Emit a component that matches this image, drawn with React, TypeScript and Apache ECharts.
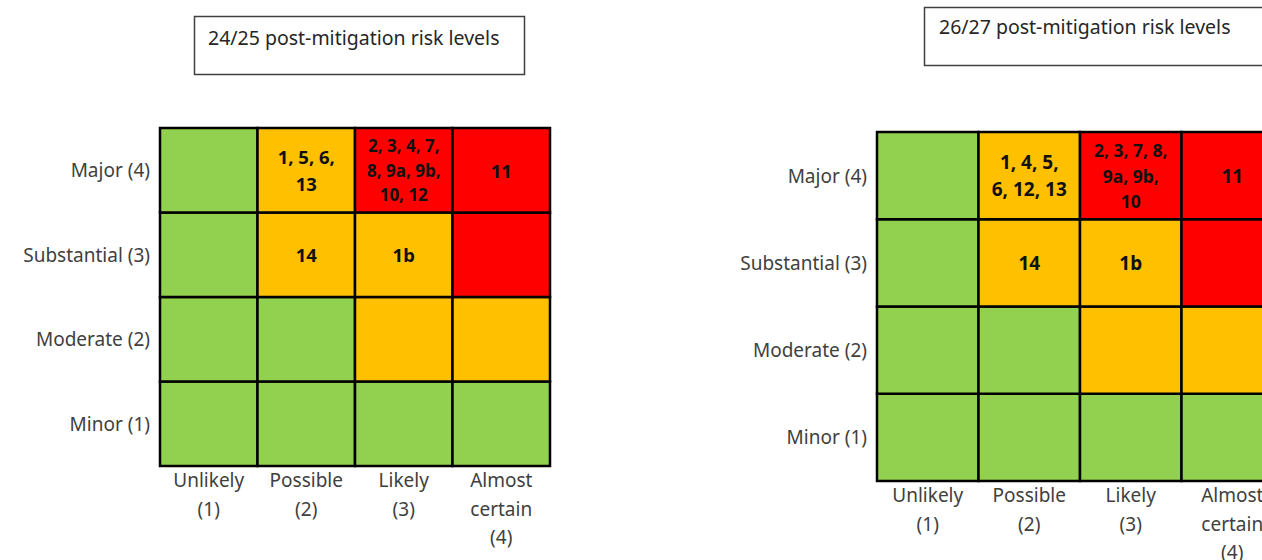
import React, { useEffect, useRef } from "react";
import * as echarts from "echarts";

const likelihood = ["Unlikely\n(1)", "Possible\n(2)", "Likely\n(3)", "Almost\ncertain\n(4)"];
const impact = ["Minor (1)", "Moderate (2)", "Substantial (3)", "Major (4)"];

// risk level per cell, rows from Minor (1) to Major (4); 0 green, 1 amber, 2 red
const riskLevels = [
  [0, 0, 0, 0],
  [0, 0, 1, 1],
  [0, 1, 1, 2],
  [0, 1, 2, 2],
];

const risks2425 = [
  ["", "", "", ""],
  ["", "", "", ""],
  ["", "14", "1b", ""],
  ["", "1, 5, 6,\n13", "2, 3, 4, 7,\n8, 9a, 9b,\n10, 12", "11"],
];

const risks2627 = [
  ["", "", "", ""],
  ["", "", "", ""],
  ["", "14", "1b", ""],
  ["", "1, 4, 5,\n6, 12, 13", "2, 3, 7, 8,\n9a, 9b,\n10", "11"],
];

const titles = ["24/25 post-mitigation risk levels", "26/27 post-mitigation risk levels"];

const levelColors = ["#92D050", "#FFC000", "#FF0000"];
const FONT = "'Noto Sans', sans-serif";

function buildData(labels: string[][]) {
  const out: any[] = [];
  for (let y = 0; y < 4; y++) {
    for (let x = 0; x < 4; x++) {
      out.push({ value: [x, y, riskLevels[y][x]], label: labels[y][x] });
    }
  }
  return out;
}

function makeSeries(
  gridIndex: number,
  labels: string[][],
  bigFont: number,
  bigLH: number,
  smallFont: number,
  smallLH: number
) {
  const data = buildData(labels);
  return {
    type: "custom",
    xAxisIndex: gridIndex,
    yAxisIndex: gridIndex,
    encode: { x: 0, y: 1 },
    clip: false,
    data: data.map((d) => d.value),
    renderItem: (params: any, api: any) => {
      const c = api.coord([api.value(0), api.value(1)]);
      const s = api.size([1, 1]);
      const lvl = api.value(2);
      const text = data[params.dataIndex].label;
      const lines = text ? text.split("\n").length : 0;
      const fs = lines >= 3 ? smallFont : bigFont;
      const lh = lines >= 3 ? smallLH : bigLH;
      return {
        type: "group",
        children: [
          {
            type: "rect",
            shape: { x: c[0] - s[0] / 2, y: c[1] - s[1] / 2, width: s[0], height: s[1] },
            style: { fill: levelColors[lvl], stroke: "#000", lineWidth: 2.5 },
          },
          {
            type: "text",
            x: c[0],
            y: c[1],
            style: {
              text,
              align: "center",
              verticalAlign: "middle",
              fontFamily: FONT,
              fontWeight: "bold",
              fontSize: fs,
              lineHeight: lh,
              fill: "#111",
            },
          },
        ],
      };
    },
  };
}

export default function App() {
  const ref = useRef<HTMLDivElement>(null);
  useEffect(() => {
    if (!ref.current) return;
    const chart = echarts.init(ref.current, null, { renderer: "svg" });
    const axisLabelX = { color: "#404040", fontFamily: FONT, fontSize: 19, lineHeight: 28.5, margin: 0 };
    const axisLabelY = { color: "#404040", fontFamily: FONT, fontSize: 19, margin: 10 };
    const xAxisBase = {
      type: "category",
      data: likelihood,
      axisLine: { show: false },
      axisTick: { show: false },
      splitLine: { show: false },
      axisLabel: axisLabelX,
    };
    const yAxisBase = {
      type: "category",
      data: impact,
      axisLine: { show: false },
      axisTick: { show: false },
      splitLine: { show: false },
      axisLabel: axisLabelY,
    };
    chart.setOption({
      animation: false,
      backgroundColor: "#fff",
      grid: [
        { left: 160, top: 128, width: 390, height: 338, outerBoundsMode: "none", containLabel: false },
        { left: 877, top: 132, width: 406, height: 349, outerBoundsMode: "none", containLabel: false },
      ],
      xAxis: [
        { ...xAxisBase, gridIndex: 0 },
        { ...xAxisBase, gridIndex: 1 },
      ],
      yAxis: [
        { ...yAxisBase, gridIndex: 0 },
        { ...yAxisBase, gridIndex: 1 },
      ],
      series: [makeSeries(0, risks2425, 18.5, 27, 17, 24.5), makeSeries(1, risks2627, 19, 27, 17.5, 25.5)],
      graphic: [
        {
          type: "rect",
          shape: { x: 194.5, y: 16.5, width: 330, height: 58 },
          style: { fill: "none", stroke: "#404040", lineWidth: 1.5 },
        },
        {
          type: "text",
          x: 208,
          y: 37,
          style: {
            text: titles[0],
            fontFamily: FONT,
            fontSize: 19.5,
            fill: "#262626",
            verticalAlign: "middle",
          },
        },
        {
          type: "rect",
          shape: { x: 924.5, y: 7.5, width: 360, height: 58 },
          style: { fill: "none", stroke: "#404040", lineWidth: 1.5 },
        },
        {
          type: "text",
          x: 939,
          y: 26,
          style: {
            text: titles[1],
            fontFamily: FONT,
            fontSize: 19.5,
            fill: "#262626",
            verticalAlign: "middle",
          },
        },
      ],
    });
    return () => chart.dispose();
  }, []);
  return (
    <div
      ref={ref}
      style={{ position: "fixed", left: 0, top: 0, width: 1262, height: 560, background: "#fff" }}
    />
  );
}
